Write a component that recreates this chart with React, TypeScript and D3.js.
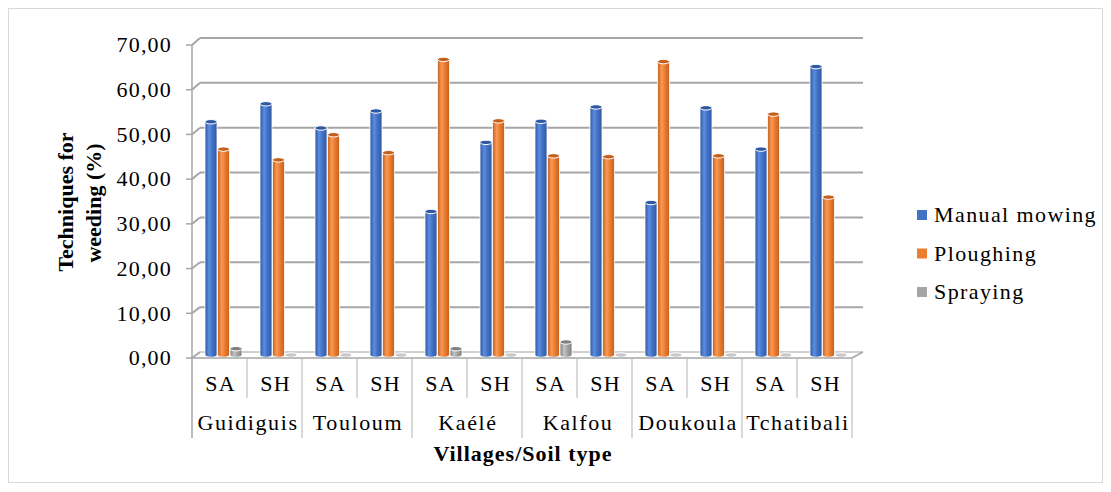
import React from "react";
import * as d3 from "d3";

const villages = ["Guidiguis", "Touloum", "Kaélé", "Kalfou", "Doukoula", "Tchatibali"];
const soils = ["SA", "SH"];
const seriesNames = ["Manual mowing", "Ploughing", "Spraying"];
const manualMowing = [52.0, 56.0, 50.6, 54.4, 32.0, 47.4, 52.1, 55.3, 34.0, 55.1, 45.9, 64.3];
const ploughing = [45.9, 43.5, 49.1, 45.1, 65.9, 52.2, 44.4, 44.2, 65.4, 44.4, 53.7, 35.2];
const spraying = [1.4, 0, 0, 0, 1.4, 0, 2.9, 0, 0, 0, 0, 0];
const yTicks = [0, 10, 20, 30, 40, 50, 60, 70];

const colors = ["#4472C4", "#ED7D31", "#A5A5A5"];
const darks = ["#2f58a3", "#c45f1c", "#7f7f7f"];
const lights = ["#5b8de0", "#f79a55", "#c4c4c4"];

const FONT = '"Times New Roman", "Liberation Serif", Tinos, serif';

export default function App() {
  const W = 1111, H = 492;
  const leaves = villages.flatMap((v) => soils.map((s) => v + "|" + s));
  const x = d3.scaleBand<string>().domain(leaves).range([192, 852]).paddingInner(0).paddingOuter(0);
  const bw = x.bandwidth();
  const yBar = d3.scaleLinear().domain([0, 70]).range([355, 41]);
  const yFront = d3.scaleLinear().domain([0, 70]).range([358, 45]);
  const yBack = d3.scaleLinear().domain([0, 70]).range([352, 38]);
  const data = [manualMowing, ploughing, spraying];
  const sub = d3.scaleBand<number>().domain([0, 1, 2]).range([13, 50]).paddingInner(0.04);
  const fs = 22;
  const ts: React.CSSProperties = { fontFamily: FONT, letterSpacing: "1.2px" };

  return (
    <svg width={W} height={H} style={{ position: "absolute", left: 0, top: 0, background: "#fff", fontFamily: FONT }}>
      <defs>
        {colors.map((c, i) => (
          <linearGradient key={i} id={"g" + i} x1="0" x2="1" y1="0" y2="0">
            <stop offset="0" stopColor={darks[i]} />
            <stop offset="0.35" stopColor={lights[i]} />
            <stop offset="0.6" stopColor={c} />
            <stop offset="1" stopColor={darks[i]} />
          </linearGradient>
        ))}
      </defs>
      <rect x={8.5} y={8.5} width={1094} height={474} fill="#fff" stroke="#d9d9d9" />
      {yTicks.map((t) => (
        <g key={t}>
          {t > 0 && <line x1={200} x2={863} y1={yBack(t)} y2={yBack(t)} stroke="#a6a6a6" strokeWidth={2} />}
          <line x1={192} x2={200} y1={yFront(t)} y2={yBack(t)} stroke="#a6a6a6" strokeWidth={2} />
          <line x1={186} x2={192} y1={yFront(t)} y2={yFront(t)} stroke="#a6a6a6" strokeWidth={1.5} />
          <text x={172} y={yFront(t)} dy="0.33em" textAnchor="end" fontSize={fs} fill="#000" style={ts}>
            {d3.format(".2f")(t).replace(".", ",")}
          </text>
        </g>
      ))}
      <line x1={200} x2={863} y1={yBack(0)} y2={yBack(0)} stroke="#bfbfbf" strokeWidth={1.5} />
      <line x1={852} x2={863} y1={yFront(0)} y2={yBack(0)} stroke="#a6a6a6" strokeWidth={1.5} />
      {leaves.map((l, li) =>
        data.map((arr, si) => {
          const v = arr[li];
          const bx = (x(l) as number) + (sub(si) as number);
          const w = sub.bandwidth();
          const top = yBar(v);
          const bot = yBar(0);
          const rx = w / 2;
          const ry = 2.2;
          return (
            <g key={l + si}>
              {v > 0 && (
                <path
                  d={`M${bx},${top} L${bx},${bot} A${rx},${ry} 0 0 0 ${bx + w},${bot} L${bx + w},${top} Z`}
                  fill={`url(#g${si})`}
                  stroke="#ffffff"
                  strokeWidth={0.8}
                />
              )}
              <ellipse cx={bx + rx} cy={top} rx={rx} ry={ry} fill={v > 0 ? darks[si] : "#c8c8c8"} stroke="#fff" strokeWidth={1} />
            </g>
          );
        })
      )}
      <line x1={192} x2={192} y1={yFront(70)} y2={438} stroke="#a6a6a6" strokeWidth={1.5} />
      <line x1={192} x2={852} y1={yFront(0)} y2={yFront(0)} stroke="#a6a6a6" strokeWidth={1.5} />
      {leaves.map((l, li) => {
        const xr = (x(l) as number) + bw;
        const isVillageEnd = li % 2 === 1;
        return (
          <line key={"d" + l} x1={xr} x2={xr} y1={yFront(0)} y2={isVillageEnd ? 438 : 398} stroke="#bfbfbf" strokeWidth={1.2} />
        );
      })}
      {leaves.map((l) => (
        <text key={"s" + l} x={(x(l) as number) + bw / 2 + 1} y={384} dy="0.33em" textAnchor="middle" fontSize={fs} style={ts}>
          {l.split("|")[1]}
        </text>
      ))}
      {villages.map((v) => (
        <text key={"v" + v} x={(x(v + "|SA") as number) + bw + 1} y={423} dy="0.33em" textAnchor="middle" fontSize={fs} style={{ fontFamily: FONT, letterSpacing: "1.6px" }}>
          {v}
        </text>
      ))}
      <text x={523} y={454} dy="0.33em" textAnchor="middle" fontSize={fs} fontWeight="bold" style={{ fontFamily: FONT, letterSpacing: "1px" }}>
        Villages/Soil type
      </text>
      <g transform="translate(66,202) rotate(-90)">
        <text x={0} y={0} dy="0.33em" textAnchor="middle" fontSize={fs} fontWeight="bold" style={{ fontFamily: FONT }}>Techniques for</text>
      </g>
      <g transform="translate(94,203) rotate(-90)">
        <text x={0} y={0} dy="0.33em" textAnchor="middle" fontSize={fs} fontWeight="bold" style={{ fontFamily: FONT }}>weeding (%)</text>
      </g>
      {seriesNames.map((n, i) => (
        <g key={n} transform={`translate(917,${215 + i * 38.5})`}>
          <rect x={0} y={-5} width={10} height={10} fill={colors[i]} />
          <text x={17} y={0} dy="0.33em" fontSize={fs} style={{ fontFamily: FONT, letterSpacing: "1.4px" }}>{n}</text>
        </g>
      ))}
    </svg>
  );
}
